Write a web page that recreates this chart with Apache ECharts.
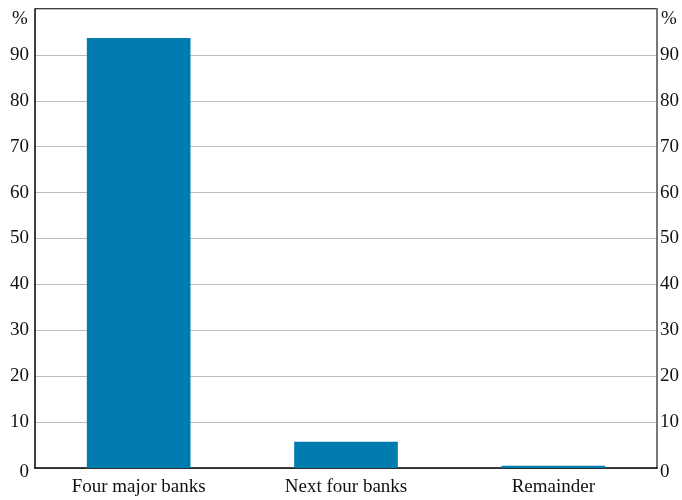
<!DOCTYPE html>
<html><head><meta charset="utf-8">
<script src="https://cdn.jsdelivr.net/npm/echarts@6/dist/echarts.min.js"></script>
<style>html,body{margin:0;padding:0;background:#fff}#c{width:682px;height:500px}</style>
</head><body><div id="c"></div>
<script>
const categories = ["Four major banks", "Next four banks", "Remainder"];
const shares = [93.7, 5.7, 0.5];
const yTicks = [0, 10, 20, 30, 40, 50, 60, 70, 80, 90];

const FONT = "Liberation Serif";
const FS = 19;
const chart = echarts.init(document.getElementById('c'), null, {renderer: 'canvas'});
const labelFmt = v => (v >= 100 ? '' : (v === 0 ? '{z|0}' : String(v)));
const richZ = {z: {fontFamily: FONT, fontSize: FS, color: '#111', padding: [8, 0, 0, 0]}};
chart.setOption({
  animation: false,
  grid: {left: 35, right: 24, top: 9, bottom: 32, containLabel: false},
  xAxis: {
    type: 'category', data: categories,
    axisLine: {show: true, lineStyle: {color: '#000', width: 1.5}},
    axisTick: {show: false},
    axisLabel: {fontFamily: FONT, fontSize: FS, color: '#111', margin: 10}
  },
  yAxis: [{
    type: 'value', min: 0, max: 100, interval: 10, position: 'left',
    axisLine: {show: true, lineStyle: {color: '#000', width: 1.5}},
    axisTick: {show: false},
    splitLine: {show: true, lineStyle: {color: '#bdbdbd', width: 1}},
    axisLabel: {fontFamily: FONT, fontSize: FS, color: '#111', margin: 6, formatter: labelFmt, rich: richZ}
  }, {
    type: 'value', min: 0, max: 100, interval: 10, position: 'right',
    axisLine: {show: true, lineStyle: {color: '#777', width: 2}},
    axisTick: {show: false},
    splitLine: {show: false},
    axisLabel: {fontFamily: FONT, fontSize: FS, color: '#111', margin: 3, formatter: labelFmt, rich: richZ}
  }],
  series: [{
    type: 'bar', data: shares, barWidth: '50%', yAxisIndex: 0,
    itemStyle: {color: '#007bb0'}
  }],
  graphic: [
    {type: 'line', shape: {x1: 35, y1: 9, x2: 658, y2: 9}, style: {stroke: '#000', lineWidth: 1.5}},
    {type: 'text', left: 12, top: 10, style: {text: '%', font: FS + 'px "Liberation Serif"', fill: '#111'}},
    {type: 'text', left: 661, top: 10, style: {text: '%', font: FS + 'px "Liberation Serif"', fill: '#111'}}
  ]
});
</script></body></html>
